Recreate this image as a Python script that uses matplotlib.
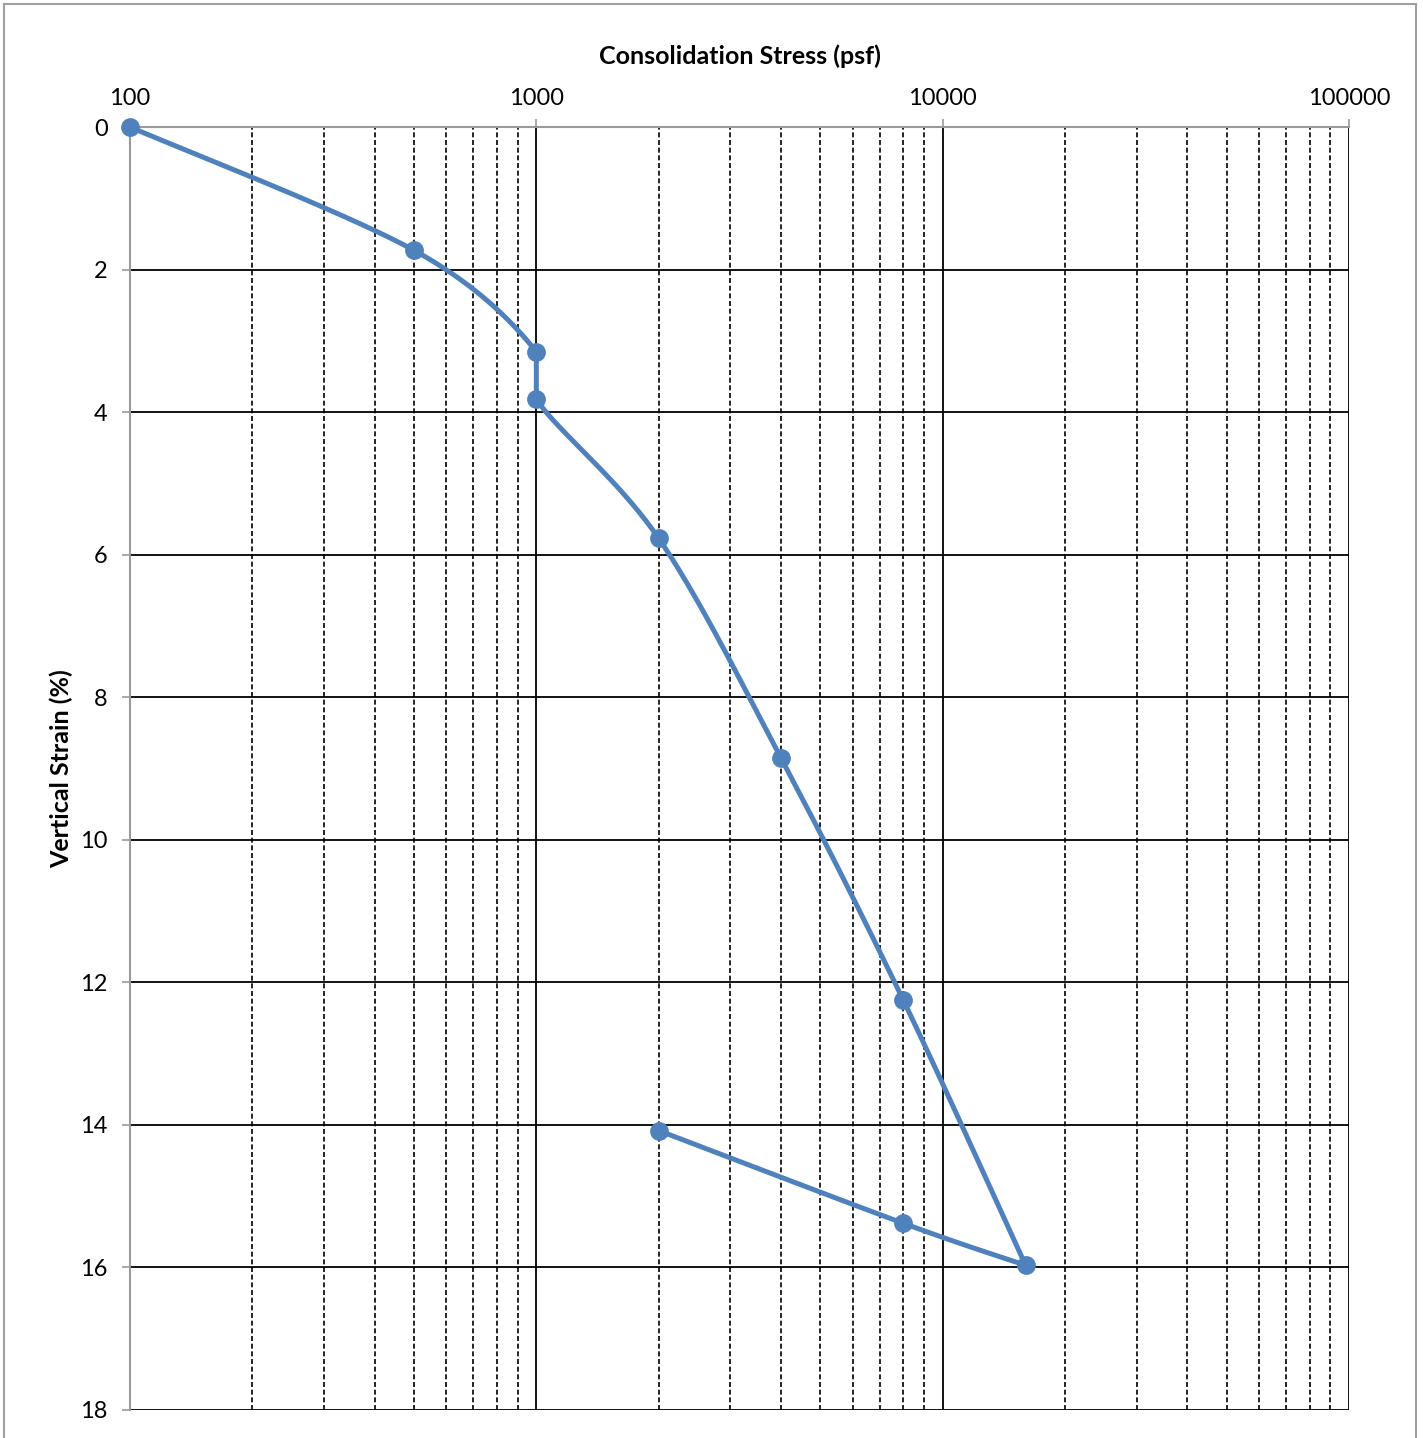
import numpy as np
import matplotlib
matplotlib.use("Agg")
import matplotlib.pyplot as plt
from matplotlib.patches import Rectangle
from matplotlib.ticker import FixedLocator, NullFormatter

plt.rcParams['font.family'] = ['Lato', 'DejaVu Sans']

# Consolidation test results (loading, then unloading from 16000 psf)
stress = [100, 500, 1000, 1000, 2000, 4000, 8000, 16000, 8000, 2000]   # psf
strain = [0.0, 1.73, 3.15, 3.82, 5.77, 8.85, 12.25, 15.97, 15.38, 14.08]  # %
n_load = 8

x_major = [100, 1000, 10000, 100000]
y_major = [0, 2, 4, 6, 8, 10, 12, 14, 16, 18]

W, H = 1423, 1438
fig = plt.figure(figsize=(W / 100, H / 100), dpi=100)
ax = fig.add_axes([130 / W, 1 - 1410 / H, (1349 - 130) / W, (1410 - 127) / H])

ax.set_xscale('log')
ax.set_xlim(100, 100000)
ax.set_ylim(18, 0)

# minor decade lines
minor = [m * d for d in (100, 1000, 10000) for m in range(2, 10)]
ax.xaxis.set_major_locator(FixedLocator(x_major))
ax.xaxis.set_minor_locator(FixedLocator(minor))
ax.xaxis.set_minor_formatter(NullFormatter())
ax.set_xticklabels([str(v) for v in x_major])
ax.set_yticks(y_major)
ax.set_yticklabels([str(v) for v in y_major])

for v in x_major[1:]:
    ax.axvline(v, color='black', lw=1.3, zorder=1)
for v in minor:
    ax.axvline(v, color='black', lw=1.2, ls=(0, (3, 1.6)), zorder=1)
for v in y_major[1:]:
    ax.axhline(v, color='black', lw=1.3, zorder=1)

ax.xaxis.tick_top()
ax.tick_params(axis='x', which='major', direction='out', length=6, width=1.2,
               color='#9a9a9a', labelsize=17, pad=7)
ax.tick_params(axis='x', which='minor', length=0)
ax.tick_params(axis='y', direction='out', length=6, width=1.2,
               color='#9a9a9a', labelsize=17, pad=10)
for s in ('bottom', 'right'):
    ax.spines[s].set_visible(False)
for s in ('top', 'left'):
    ax.spines[s].set_color('#9a9a9a')
    ax.spines[s].set_linewidth(1.5)

ax.set_title('Consolidation Stress (psf)', fontsize=18, fontweight='bold', pad=45)
ax.set_ylabel('Vertical Strain (%)', fontsize=18, fontweight='bold', labelpad=5)


# smoothed line through the points (Bezier with 1/6 tangents, in screen space)
def smooth(xs, ys, n=40):
    pts = ax.transData.transform(np.column_stack([xs, ys]))
    out = []
    k = len(pts)
    for i in range(k - 1):
        p0 = pts[max(i - 1, 0)]
        p1 = pts[i]
        p2 = pts[i + 1]
        p3 = pts[min(i + 2, k - 1)]
        d12 = np.hypot(*(p2 - p1))
        if abs(xs[i] - xs[i + 1]) < 1e-9:
            c1, c2 = p1, p2
        else:
            t1 = (p2 - p0) / 6
            t2 = (p3 - p1) / 6
            for t in (t1, t2):
                m = np.hypot(*t)
                if m > d12 / 2:
                    t *= (d12 / 2) / m
            c1 = p1 + t1
            c2 = p2 - t2
        t = np.linspace(0, 1, n)[:, None]
        seg = ((1 - t) ** 3) * p1 + 3 * ((1 - t) ** 2) * t * c1 + 3 * (1 - t) * t ** 2 * c2 + t ** 3 * p2
        out.append(seg if i == 0 else seg[1:])
    return ax.transData.inverted().transform(np.vstack(out))


for sl in (slice(0, n_load), slice(n_load - 1, None)):
    curve = smooth(stress[sl], strain[sl])
    ax.plot(curve[:, 0], curve[:, 1], color='#4f81bd', lw=3.6,
            solid_capstyle='round', zorder=3, clip_on=False)
ax.plot(stress, strain, ls='none', marker='o', ms=12.5, color='#4f81bd',
        zorder=4, clip_on=False)

# chart area border
fig.add_artist(Rectangle((4 / W, -0.02), (1416 - 4) / W, 1.02 - 4 / H,
                         transform=fig.transFigure, fill=False,
                         edgecolor='#a0a0a0', lw=1.5))

fig.savefig('out.png', dpi=100)
